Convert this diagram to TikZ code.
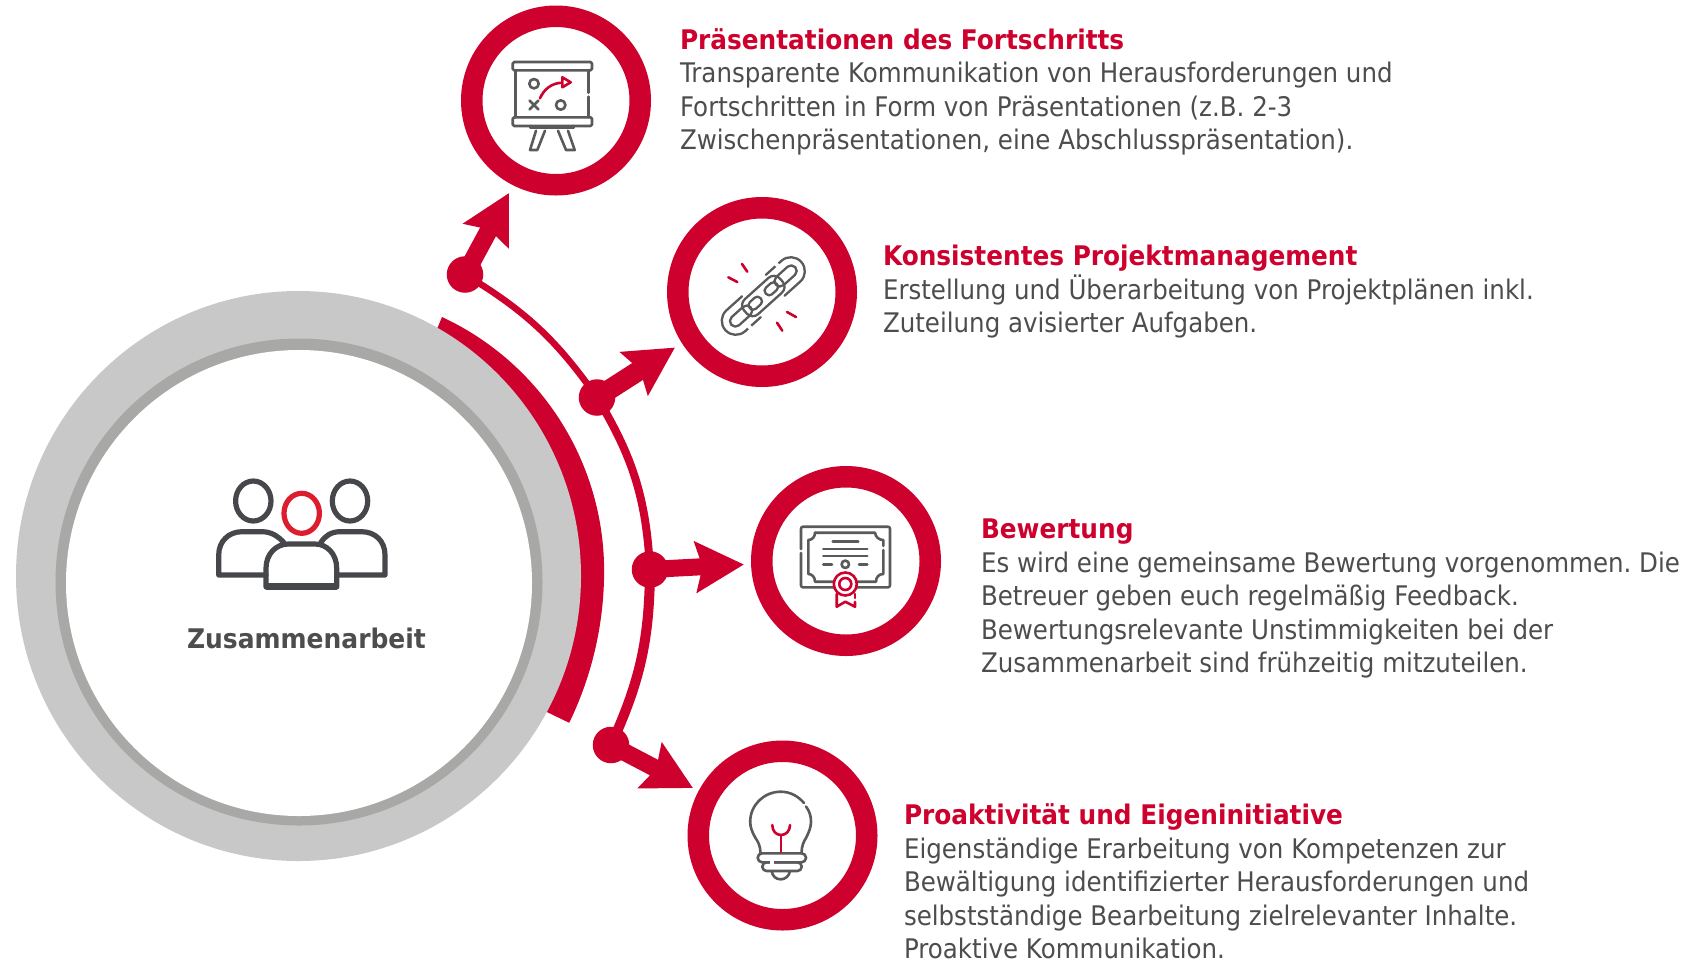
\documentclass[tikz,border=0pt]{standalone}
\usepackage{fontspec}
\usetikzlibrary{arrows.meta}
\newfontfamily\bodyf[FakeStretch=0.908]{DejaVu Sans}
\newfontfamily\titlef[FakeStretch=0.918]{DejaVu Sans}
\newfontfamily\labelf[FakeStretch=0.925]{DejaVu Sans}
\definecolor{brand}{HTML}{CE002D}
\definecolor{ltgray}{HTML}{C8C8C8}
\definecolor{midgray}{HTML}{A8A8A6}
\definecolor{txtgray}{HTML}{4D4D4D}
\definecolor{icongray}{HTML}{5A5A5A}
\definecolor{pplgray}{HTML}{46474A}
\definecolor{pplred}{HTML}{DC1D2D}
\tikzset{
  ring/.style={circle,draw=brand,line width=21.5pt,fill=white,minimum size=168.5pt,inner sep=0pt,outer sep=0pt},
  dot/.style={circle,fill=brand,minimum size=36.5pt,inner sep=0pt,outer sep=0pt},
  arr/.style={draw=brand,-{Stealth[length=48pt,width=50pt,inset=6.5pt]}},
  link/.style={draw=brand},
  txt/.style={anchor=north west,inner sep=0pt,outer sep=0pt,align=left,text=txtgray,font=\bodyf\fontsize{27}{33.5}\selectfont},
  ic/.style={draw=icongray,line width=2.6pt,line cap=round,line join=round},
  icr/.style={draw=brand,line width=2.6pt,line cap=round,line join=round},
  ppl/.style={draw=pplgray,line width=5.2pt,line join=round,line cap=round},
}
\newcommand{\ttlline}[1]{\rule{0pt}{24pt}{\titlef\bfseries\color{brand}#1}}
\frenchspacing
\begin{document}
\begin{tikzpicture}[x=1pt,y=-1pt]
\useasboundingbox (0,0) rectangle (1686,962);
\fill[white] (0,0) rectangle (1686,962);
% red band
\fill[brand] (442,317) arc[start angle=-65.1,end angle=0,radius=280] arc[start angle=0,end angle=25.9,radius=347.6] -- (549,713) -- (520,699) -- (428,344) -- (437,329) -- cycle;
% big circle
\fill[ltgray] (298.5,576) ellipse[x radius=282.5,y radius=285];
\fill[midgray] (299,582) circle[radius=243.5];
\fill[white] (299,583) circle[radius=233];
% rings
\node[ring] (c1) at (556,100.5) {};
\node[ring] (c2) at (762,292) {};
\node[ring] (c3) at (846,561) {};
\node[ring] (c4) at (782.5,835.5) {};
% dots
\node[dot] (d1) at (465,274.5) {};
\node[dot] (d2) at (597,397.5) {};
\node[dot] (d3) at (650,569.5) {};
\node[dot] (d4) at (611,745) {};
\coordinate (t1) at (509,193);
\coordinate (t2) at (675,347.5);
\coordinate (t3) at (744,564.5);
\coordinate (t4) at (693,788);
\draw[link,line width=6.5pt] (d1.center) to[bend left=12] (d2.center);
\draw[link,line width=8pt] (d2.center) to[bend left=14] (d3.center);
\draw[link,line width=10pt] (d3.center) to[bend left=12] (d4.center);
\draw[arr,line width=18pt] (d1.center) -- (t1);
\draw[arr,line width=20pt] (d2.center) -- (t2);
\draw[arr,line width=17pt] (d3.center) -- (t3);
\draw[arr,line width=17.5pt] (d4.center) -- (t4);
% people icon
\draw[ppl] (253.3,501) ellipse[x radius=17.7,y radius=20];
\draw[ppl] (350,501) ellipse[x radius=17.7,y radius=20];
\draw[ppl,draw=pplred] (301.7,513.3) ellipse[x radius=17.7,y radius=20];
\draw[ppl] (266,575) -- (218.7,575) -- (218.7,555) .. controls (218.7,541) and (229,531.7) .. (242,531.7) -- (262,531.7) .. controls (271,531.7) and (278,536) .. (284,542.7);
\draw[ppl] (337,575) -- (385,575) -- (385,555) .. controls (385,541) and (375,531.7) .. (361.7,531.7) -- (340,531.7) .. controls (331,531.7) and (325,536) .. (320.7,542.7);
\draw[ppl,line width=5.2pt] (266,587) -- (266,568.3) .. controls (266,554) and (276,544) .. (288.3,544) -- (315,544) .. controls (327,544) and (336.7,554) .. (336.7,568.3) -- (336.7,587) -- cycle;
\draw[ppl,line width=6.5pt,line cap=butt] (266,586.5) -- (336.7,586.5);
% presentation icon
\draw[ic,rounded corners=1.5pt] (512.7,62) rectangle (592,70.3);
\draw[ic,rounded corners=1.5pt] (512.7,117.3) rectangle (592,126);
\draw[ic] (515.7,70.3) -- (515.7,117.3);
\draw[ic] (588.7,70.3) -- (588.7,92.7);
\draw[ic] (588.7,96.7) -- (588.7,117.3);
\draw[ic] (530.7,126) -- (530.7,128) -- (573.3,128) -- (573.3,126);
\draw[ic] (536,130.7) -- (530,150) -- (537.3,150) -- (545,130.7);
\draw[ic] (558,130.7) -- (566,150) -- (574.7,150) -- (568,130.7);
\draw[ic] (534,83.7) circle[radius=4.7];
\draw[ic] (560.7,105) circle[radius=4.7];
\draw[ic] (529.6,100.6) -- (538.4,109.4) (529.6,109.4) -- (538.4,100.6);
\draw[icr] (540,98.3) .. controls (544,89) and (552,83) .. (562,82.7);
\draw[icr] (562.3,77.3) -- (570.7,82.3) -- (562.3,87.3) -- cycle;
% chain icon
\begin{scope}[shift={(763.3,296)},rotate=42]
\draw[ic,line width=2.3pt,rounded corners=13.9pt] (16,-14) -- (51,-14) -- (51,14) -- (16,14);
\draw[ic,line width=2.3pt,rounded corners=5.4pt] (17,-5.5) rectangle (43,5.5);
\draw[ic,line width=2.3pt,rounded corners=13.9pt] (-16,14) -- (-51,14) -- (-51,-14) -- (-16,-14);
\draw[ic,line width=2.3pt,rounded corners=5.4pt] (-17,-5.5) rectangle (-43,5.5);
\draw[ic,line width=2.3pt,rounded corners=8pt] (-24,-10) rectangle (24,10);
\draw[ic,line width=2.3pt,rounded corners=4pt] (3.5,-4.5) rectangle (18,4.5);
\draw[ic,line width=2.3pt,rounded corners=4pt] (-3.5,-4.5) rectangle (-18,4.5);
\draw[white,line width=4.6pt,line cap=butt] (29,-14) -- (33,-14);
\draw[white,line width=4.6pt,line cap=butt] (-29,14) -- (-33,14);
\end{scope}
\draw[icr] (728.3,277.3) -- (737.3,282);
\draw[icr] (742,264) -- (747.3,271.7);
\draw[icr] (787,312) -- (796,317);
\draw[icr] (777,322.7) -- (782.3,330.7);
% certificate icon
\draw[ic,rounded corners=2pt] (801,549) -- (801,526.7) -- (890,526.7) -- (890,587.3) -- (801,587.3) -- (801,553);
\draw[ic] (815,532.7) -- (875,532.7) .. controls (875.5,537) and (879,540) .. (883.3,540) -- (883.3,546);
\draw[ic] (883.3,550) -- (883.3,574) .. controls (879,574) and (876,577) .. (876,581.7) -- (855,581.7);
\draw[ic] (834,581.7) -- (815,581.7) .. controls (815,577) and (812,574) .. (808.3,574) -- (808.3,540) .. controls (812,540) and (815,537) .. (815,532.7);
\draw[ic] (832.7,541.7) -- (858.3,541.7);
\draw[ic] (823.3,549) -- (867.3,549);
\draw[ic] (823.3,556) -- (867.3,556);
\draw[ic] (823.3,564.3) -- (832,564.3);
\draw[ic] (859,564.3) -- (867.3,564.3);
\draw[ic] (845.3,564.3) circle[radius=3.7];
\draw[icr,fill=white] (845.3,584) circle[radius=11.5];
\draw[icr] (845.3,584) circle[radius=6];
\draw[icr] (836.7,594) -- (836.7,606.7) -- (845.3,601.7) -- (855,606.7) -- (855,602);
\draw[icr] (855,598) -- (855,594);
% bulb icon
\draw[ic] (760.5,853) .. controls (760.5,846) and (757.7,841) .. (755.5,838) .. controls (752,832) and (750.2,827) .. (750.2,821.7) .. controls (750.2,805) and (764,791.7) .. (780.7,791.7) .. controls (790,791.7) and (798,796) .. (804,803);
\draw[ic] (806,806.5) .. controls (809.5,811) and (811,816) .. (811,821.7) .. controls (811,827) and (809,832) .. (806,838) .. controls (804,841) and (801.5,846) .. (801.5,853);
\draw[ic,rounded corners=4.4pt] (757.7,853.3) rectangle (806,862.3);
\draw[ic,rounded corners=4.3pt] (762.3,862.3) rectangle (801.7,871);
\draw[white,line width=3.4pt,line cap=butt] (770,862.3) -- (773.5,862.3);
\draw[ic] (771.7,871) .. controls (772.5,876.5) and (776,879.3) .. (780.7,879.3) .. controls (785,879.3) and (789,876.5) .. (790,871);
\draw[icr] (772.3,825) .. controls (772.3,831) and (776,835) .. (781,835) .. controls (786,835) and (790,831) .. (790,825);
\draw[icr] (781,835) -- (781,851.7);
% texts
\node[txt,anchor=base] (lab) at (306.5,648) {\labelf\bfseries\color{txtgray}Zusammenarbeit};
\node[txt] (t-a) at (680,25.3) {\ttlline{Präsentationen des Fortschritts}\\Transparente Kommunikation von Herausforderungen und\\Fortschritten in Form von Präsentationen (z.B. 2-3\\Zwischenpräsentationen, eine Abschlusspräsentation).};
\node[txt] (t-b) at (883,241.5) {\ttlline{Konsistentes Projektmanagement}\\Erstellung und Überarbeitung von Projektplänen inkl.\\Zuteilung avisierter Aufgaben.};
\node[txt] (t-c) at (981,514.5) {\ttlline{Bewertung}\\Es wird eine gemeinsame Bewertung vorgenommen. Die\\Betreuer geben euch regelmäßig Feedback.\\Bewertungsrelevante Unstimmigkeiten bei der\\Zusammenarbeit sind frühzeitig mitzuteilen.};
\node[txt] (t-d) at (904,800.7) {\ttlline{Proaktivität und Eigeninitiative}\\Eigenständige Erarbeitung von Kompetenzen zur\\Bewältigung identifizierter Herausforderungen und\\selbstständige Bearbeitung zielrelevanter Inhalte.\\Proaktive Kommunikation.};
\end{tikzpicture}
\end{document}
